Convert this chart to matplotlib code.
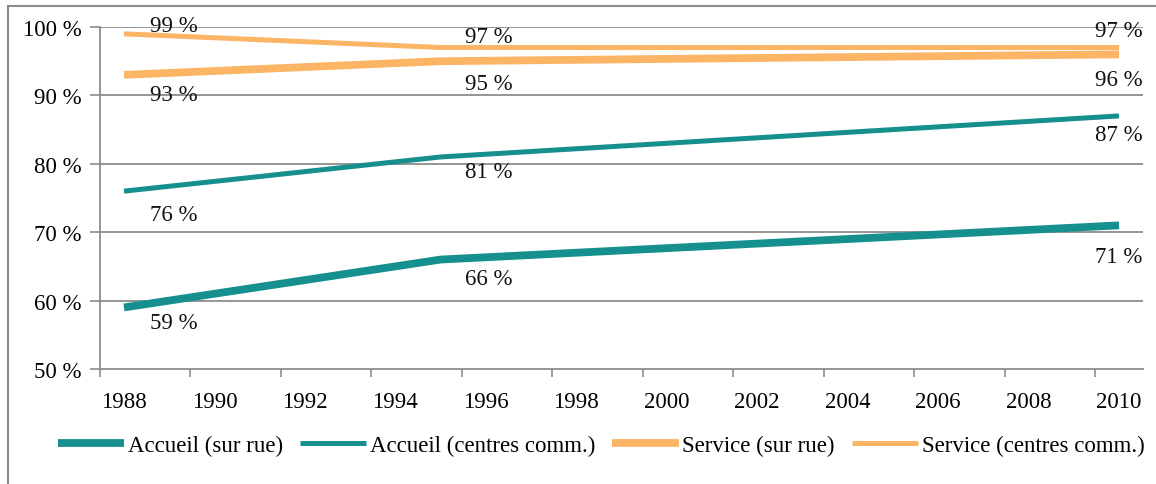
import matplotlib
matplotlib.use("Agg")
import matplotlib.pyplot as plt
from matplotlib.patches import Rectangle

years = [1988, 1995, 2010]
accueil_rue = [59, 66, 71]
accueil_centres = [76, 81, 87]
service_rue = [93, 95, 96]
service_centres = [99, 97, 97]
tick_years = list(range(1988, 2011, 2))
y_ticks = [50, 60, 70, 80, 90, 100]
labels = ["Accueil (sur rue)", "Accueil (centres comm.)",
          "Service (sur rue)", "Service (centres comm.)"]

TEAL = "#16908E"
ORANGE = "#FCB465"
GRID = "#8C8C8C"
FS = 16.5

plt.rcParams["font.family"] = ["Liberation Serif", "DejaVu Serif"]
plt.rcParams["font.size"] = FS

fig = plt.figure(figsize=(11.56, 4.85), dpi=100)
ax = fig.add_axes([100 / 1156, 1 - 370 / 485, 1043 / 1156, 342 / 485])

series = [
    (accueil_rue, TEAL, 5.6),
    (accueil_centres, TEAL, 3.6),
    (service_rue, ORANGE, 5.6),
    (service_centres, ORANGE, 3.6),
]
handles = []
for vals, col, lw in series:
    h, = ax.plot(years, vals, color=col, lw=lw, solid_capstyle="butt",
                 solid_joinstyle="miter", zorder=3)
    handles.append(h)

# value labels: offsets in pixels for each point
offsets = {
    0: [(50, -15), (48, -19), (0, -31)],
    1: [(50, -23), (48, -15), (0, -19)],
    2: [(50, -20), (48, -22), (0, -25)],
    3: [(50, 8), (48, 11), (0, 17)],
}
all_vals = [accueil_rue, accueil_centres, service_rue, service_centres]
for i, vals in enumerate(all_vals):
    for x, v, (dx, dy) in zip(years, vals, offsets[i]):
        ax.annotate(f"{v} %", (x, v), xytext=(dx, dy), textcoords="offset pixels",
                    ha="center", va="center", color="#111111", zorder=4)

ax.set_xlim(1987.47, 2010.53)
ax.set_ylim(50, 100)

# tick marks sit between years; labels centred on the years
ax.set_xticks([1987.47 + 2 * k for k in range(12)])
ax.set_xticklabels([])
ax.tick_params(axis="x", which="major", length=6, color=GRID, width=1.2)
ax.set_xticks(tick_years, minor=True)
ax.set_xticklabels([str(y) for y in tick_years], minor=True)
ax.tick_params(axis="x", which="minor", length=0, pad=16, labelsize=FS)

ax.set_yticks(y_ticks)
ax.set_yticklabels([f"{v} %" for v in y_ticks])
ax.tick_params(axis="y", length=7, color=GRID, width=1.2, pad=6, labelsize=FS)

for v in y_ticks[1:]:
    ax.axhline(v, color=GRID, lw=1.3, zorder=1)

for s in ["top", "right"]:
    ax.spines[s].set_visible(False)
for s in ["left", "bottom"]:
    ax.spines[s].set_color(GRID)
    ax.spines[s].set_linewidth(1.3)

leg = fig.legend(handles, labels, loc="center", bbox_to_anchor=(0.52, 1 - 446 / 485),
                 ncol=4, frameon=False, handlelength=2.9, handletextpad=0.15,
                 columnspacing=0.75, fontsize=FS)

# chart-area border
fig.patches.append(Rectangle((8 / 1156, -0.1), 1.2, 1 - 7 / 485 + 0.1,
                             transform=fig.transFigure, fill=False,
                             edgecolor="#8C8C8C", lw=1.5))

fig.savefig("out.png", dpi=100)
